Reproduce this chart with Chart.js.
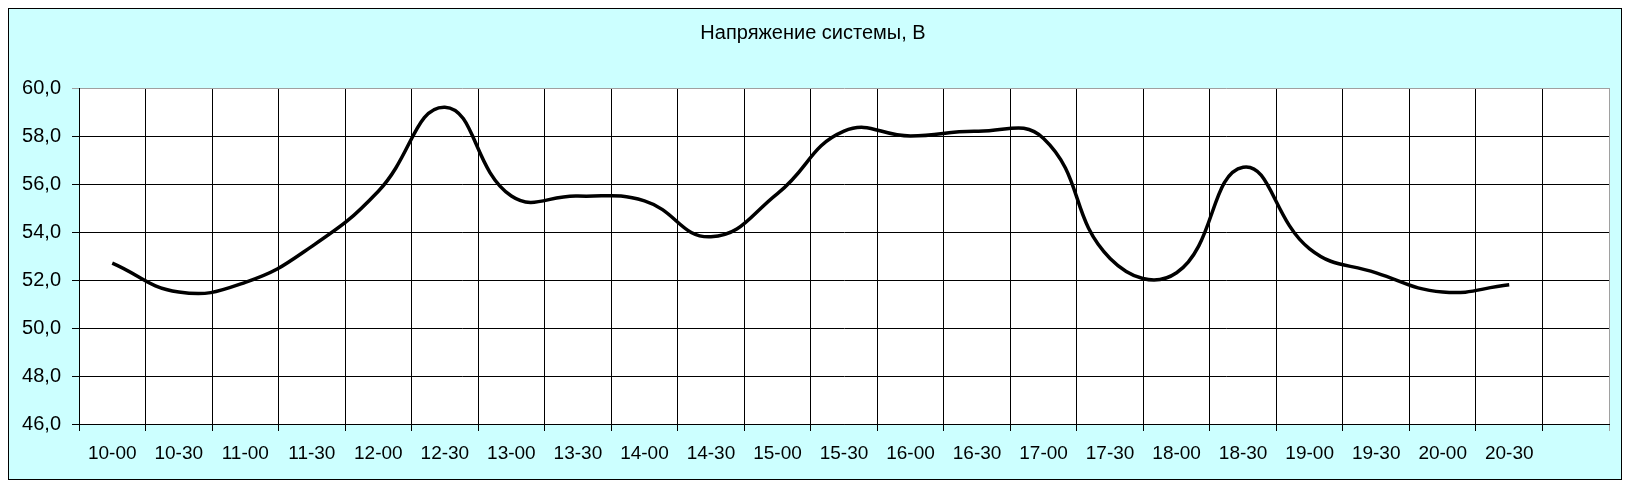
<!DOCTYPE html>
<html>
<head>
<meta charset="utf-8">
<script src="https://cdn.jsdelivr.net/npm/chart.js"></script>
<style>
  body { margin: 0; background: #ffffff; }
</style>
</head>
<body>
<canvas id="voltChart" width="1630" height="487"></canvas>
<script>
// Данные: напряжение системы по получасам
const categories = ['10-00', '10-30', '11-00', '11-30', '12-00', '12-30', '13-00', '13-30',
  '14-00', '14-30', '15-00', '15-30', '16-00', '16-30', '17-00', '17-30',
  '18-00', '18-30', '19-00', '19-30', '20-00', '20-30', ''];
const voltage = [52.7, 51.5, 51.9, 53.4, 55.7, 59.2, 55.5, 55.5, 55.3, 53.8, 55.6,
  58.2, 58.0, 58.2, 57.9, 52.9, 52.3, 56.7, 53.3, 52.3, 51.5, 51.8];
const yTicks = [46, 48, 50, 52, 54, 56, 58, 60];

const fontFamily = 'Arial, "Liberation Sans", sans-serif';

// фон как в Excel: голубая рамка + белая область построения
const excelBackground = {
  id: 'excelBackground',
  beforeDraw(chart) {
    const c = chart.ctx;
    const a = chart.chartArea;
    c.save();
    c.fillStyle = '#ccffff';
    c.fillRect(8, 8, 1614, 472);
    c.strokeStyle = '#000000';
    c.lineWidth = 1;
    c.strokeRect(8.5, 8.5, 1613, 471);
    c.fillStyle = '#ffffff';
    c.fillRect(a.left, a.top, a.right - a.left, a.bottom - a.top);
    c.restore();
  }
};

const ctx = document.getElementById('voltChart').getContext('2d');
new Chart(ctx, {
  type: 'line',
  data: {
    labels: categories,
    datasets: [{
      label: 'Напряжение, В',
      data: voltage,
      borderColor: '#000000',
      borderWidth: 3.5,
      pointRadius: 0,
      tension: 0.45,
      fill: false
    }]
  },
  options: {
    responsive: false,
    animation: false,
    devicePixelRatio: 1,
    layout: { padding: { left: 17, top: 0, right: 21, bottom: 0 } },
    plugins: {
      legend: { display: false },
      tooltip: { enabled: false },
      title: {
        display: true,
        text: 'Напряжение системы, В',
        color: '#000000',
        font: { family: fontFamily, size: 20, weight: 'normal' },
        padding: { top: 21, bottom: 43 }
      }
    },
    scales: {
      x: {
        offset: true,
        grid: {
          offset: true,
          color: (c) => c.type === 'tick' ? '#000000' : '#a0a0a0',
          lineWidth: 1,
          tickLength: 7
        },
        border: { color: '#000000', width: 1 },
        ticks: {
          autoSkip: false,
          maxRotation: 0,
          color: '#000000',
          padding: 11,
          font: { family: fontFamily, size: 19 }
        },
        afterFit: (scale) => { scale.height = 63; }
      },
      y: {
        min: yTicks[0],
        max: yTicks[yTicks.length - 1],
        afterBuildTicks: (scale) => { scale.ticks = yTicks.map(v => ({ value: v })); },
        grid: {
          color: (c) => (c.tick && c.tick.value === yTicks[yTicks.length - 1]) ? '#a0a0a0' : '#000000',
          lineWidth: 1,
          tickLength: 7
        },
        border: { color: '#000000', width: 1 },
        ticks: {
          color: '#000000',
          padding: 11,
          font: { family: fontFamily, size: 20 },
          callback: (v) => Number(v).toFixed(1).replace('.', ',')
        },
        afterFit: (scale) => { scale.width = 62; }
      }
    }
  },
  plugins: [excelBackground]
});
</script>
</body>
</html>
